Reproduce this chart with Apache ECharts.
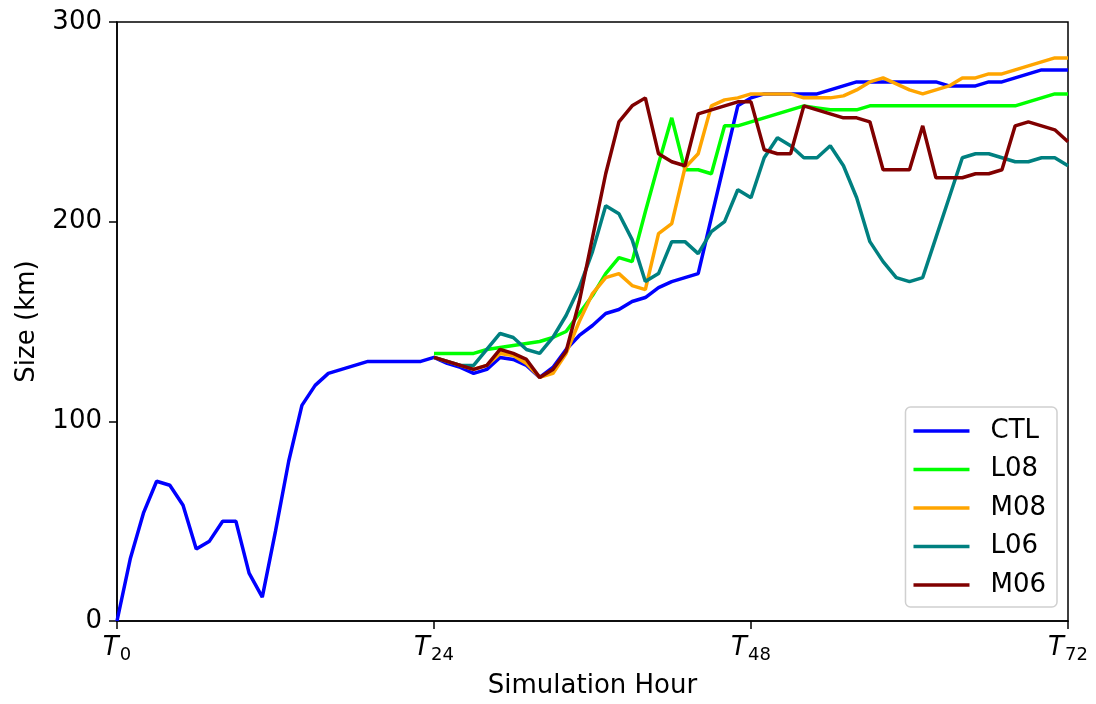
<!DOCTYPE html>
<html>
<head>
<meta charset="utf-8">
<script src="https://cdn.jsdelivr.net/npm/echarts@6/dist/echarts.min.js"></script>
<style>
  html, body { margin: 0; padding: 0; background: #fff; }
  #chart { width: 1096px; height: 704px; }
</style>
</head>
<body>
<div id="chart"></div>
<script>
// hour ticks on the x axis
const tickHours = [0, 24, 48, 72]
const tickSubs = ['0', '24', '48', '72']

// CTL runs the whole simulation, hours 0..72
const ctlStart = 0
const ctl = [0, 31, 54, 70, 68, 58, 36, 40, 50, 50, 24, 12, 45, 80, 108, 118, 124, 126, 128, 130,
  130, 130, 130, 130, 132, 129, 127, 124, 126, 132, 131, 128, 122, 127, 136, 143, 148, 154, 156, 160,
  162, 167, 170, 172, 174, 202, 230, 258, 262, 264, 264, 264, 264, 264, 266, 268, 270, 270, 270, 270,
  270, 270, 270, 268, 268, 268, 270, 270, 272, 274, 276, 276, 276]

// the experiments start at hour 24
const expStart = 24
const l08 = [134, 134, 134, 134, 136, 137, 138, 139, 140, 142, 145, 154, 163, 174, 182, 180, 205, 229, 252, 226,
  226, 224, 248, 248, 250, 252, 254, 256, 258, 257, 256, 256, 256, 258, 258, 258, 258, 258, 258, 258,
  258, 258, 258, 258, 258, 260, 262, 264, 264]
const m08 = [132, 130, 128, 126, 128, 134, 133, 129, 122, 124, 134, 150, 164, 172, 174, 168, 166, 194, 199, 227,
  234, 258, 261, 262, 264, 264, 264, 264, 262, 262, 262, 263, 266, 270, 272, 269, 266, 264, 266, 268,
  272, 272, 274, 274, 276, 278, 280, 282, 282]
const l06 = [132, 130, 128, 128, 136, 144, 142, 136, 134, 142, 153, 167, 185, 208, 204, 191, 170, 174, 190, 190,
  184, 195, 200, 216, 212, 232, 242, 238, 232, 232, 238, 228, 212, 190, 180, 172, 170, 172, 192, 212,
  232, 234, 234, 232, 230, 230, 232, 232, 228]
const m06 = [132, 130, 128, 126, 128, 136, 134, 131, 122, 126, 135, 160, 192, 224, 250, 258, 262, 234, 230, 228,
  254, 256, 258, 260, 260, 236, 234, 234, 258, 256, 254, 252, 252, 250, 226, 226, 226, 248, 222, 222,
  222, 224, 224, 226, 248, 250, 248, 246, 240]

function pairs(start, vals) {
  return vals.map((v, i) => [start + i, v])
}

const font = 'DejaVu Sans'
const chart = echarts.init(document.getElementById('chart'))

const series = [
  { name: 'CTL', color: '#0000ff', start: ctlStart, vals: ctl },
  { name: 'L08', color: '#00ff00', start: expStart, vals: l08 },
  { name: 'M08', color: '#ffa500', start: expStart, vals: m08 },
  { name: 'L06', color: '#008080', start: expStart, vals: l06 },
  { name: 'M06', color: '#800000', start: expStart, vals: m06 }
].map(s => ({
  name: s.name,
  type: 'line',
  data: pairs(s.start, s.vals),
  symbol: 'none',
  color: s.color,
  lineStyle: { width: 3.5, color: s.color },
  animation: false
}))

chart.setOption({
  backgroundColor: '#fff',
  grid: {
    left: 117, right: 28, top: 22, bottom: 83,
    show: true, borderColor: '#000', borderWidth: 1.5
  },
  xAxis: {
    type: 'value',
    min: 0, max: 72, interval: 24,
    name: 'Simulation Hour',
    nameLocation: 'middle',
    nameGap: 52,
    nameTextStyle: { fontFamily: font, fontSize: 26, color: '#000' },
    axisLine: { lineStyle: { color: '#000', width: 1.5 } },
    axisTick: { length: 8, lineStyle: { color: '#000', width: 1.5 } },
    splitLine: { show: false },
    axisLabel: {
      margin: 12,
      formatter: v => '{t|T}{s|' + tickSubs[tickHours.indexOf(v)] + '}',
      rich: {
        t: { fontFamily: font, fontSize: 26, fontStyle: 'italic', color: '#000' },
        s: { fontFamily: font, fontSize: 18, color: '#000', padding: [13, 0, 0, 1] }
      }
    }
  },
  yAxis: {
    type: 'value',
    min: 0, max: 300, interval: 100,
    name: 'Size (km)',
    nameLocation: 'middle',
    nameGap: 77,
    nameTextStyle: { fontFamily: font, fontSize: 26, color: '#000' },
    axisLine: { show: true, lineStyle: { color: '#000', width: 1.5 } },
    axisTick: { show: true, length: 8, lineStyle: { color: '#000', width: 1.5 } },
    splitLine: { show: false },
    axisLabel: { margin: 15, fontFamily: font, fontSize: 26, color: '#000' }
  },
  legend: {
    orient: 'vertical',
    right: 39, bottom: 97,
    icon: 'rect',
    itemWidth: 56, itemHeight: 3.5,
    itemGap: 12.5,
    padding: [11, 11, 9, 8],
    borderColor: '#d0d0d0', borderWidth: 1.5, borderRadius: 5,
    backgroundColor: 'rgba(255,255,255,0.85)',
    textStyle: { fontFamily: font, fontSize: 26, color: '#000', lineHeight: 26, padding: [0, 0, 0, 16] },
    data: ['CTL', 'L08', 'M08', 'L06', 'M06']
  },
  series: series
})
</script>
</body>
</html>
